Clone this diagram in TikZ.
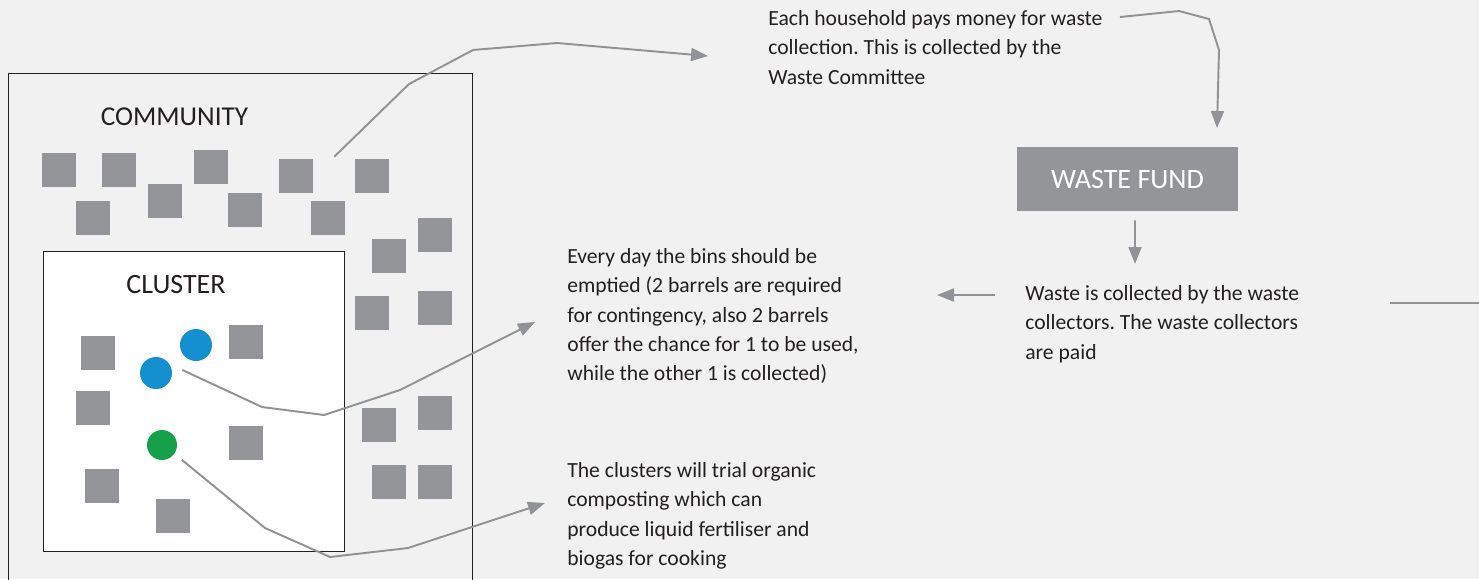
\documentclass[tikz,border=0pt]{standalone}
\usepackage{fontspec}
\setmainfont{Carlito}
\usetikzlibrary{arrows.meta, positioning}

\definecolor{bggray}{RGB}{240,241,240}
\definecolor{housegray}{RGB}{147,149,152}
\definecolor{linegray}{RGB}{145,146,149}
\definecolor{binblue}{RGB}{20,144,208}
\definecolor{bingreen}{RGB}{23,160,74}
\definecolor{inkgray}{RGB}{35,31,32}

\frenchspacing

\begin{document}
\begin{tikzpicture}[
  x=0.02cm, y=-0.02cm,
  every node/.style={font=\fontsize{12.3}{16.7}\selectfont, text=inkgray},
  house/.style={rectangle, fill=housegray, minimum size=0.68cm, inner sep=0pt},
  bin/.style={circle, fill=#1, minimum size=0.64cm, inner sep=0pt},
  zone/.style={rectangle, draw=inkgray, line width=0.7pt, anchor=north west,
               inner sep=0pt, fill=#1},
  note/.style={anchor=north west, align=left, inner sep=0pt},
  title/.style={font=\fontsize{15.5}{18}\selectfont},
  arr/.style={-{Triangle[length=0.34cm, width=0.26cm]}, draw=linegray, line width=1.1pt},
  lnk/.style={draw=linegray, line width=1.1pt},
]

% ── Fond et cadre ────────────────────────────────────────────────────
\fill[bggray] (0,0) rectangle (1479,579);
\useasboundingbox (0,0) rectangle (1479,579);

% ── Zones (communauté ouverte en bas, cluster blanc) ─────────────────
\node[zone=none, minimum width=9.28cm, minimum height=10.8cm] (community) at (8,73) {};
\node[title] (commlbl) at (174.5,116.5) {COMMUNITY};
\node[zone=white, minimum width=6.02cm, minimum height=6.0cm] (cluster) at (43,251) {};
\node[title, font=\fontsize{15.9}{18}\selectfont] (clustlbl) at (176,284.5) {CLUSTER};

% ── Maisons de la communauté ─────────────────────────────────────────
\node[house] (h1)  at (59,170)  {};
\node[house] (h2)  at (119,170) {};
\node[house] (h3)  at (211,167) {};
\node[house] (h4)  at (296,176) {};
\node[house] (h5)  at (372,176) {};
\node[house] (h6)  at (93,218)  {};
\node[house] (h7)  at (165,201) {};
\node[house] (h8)  at (245,210) {};
\node[house] (h9)  at (328,218) {};
\node[house] (h10) at (435,235) {};
\node[house] (h11) at (389,256) {};
\node[house] (h12) at (372,313) {};
\node[house] (h13) at (435,308) {};
\node[house] (h17) at (379,425) {};
\node[house] (h18) at (435,413) {};
\node[house] (h22) at (389,482) {};
\node[house] (h23) at (435,482) {};

% ── Maisons du cluster ───────────────────────────────────────────────
\node[house] (h14) at (98,353)  {};
\node[house] (h15) at (246,342) {};
\node[house] (h16) at (93,408)  {};
\node[house] (h19) at (246,443) {};
\node[house] (h20) at (102,486) {};
\node[house] (h21) at (173,516) {};

% ── Bacs (bleu : déchets, vert : compost) ────────────────────────────
\node[bin=binblue]  (bin1) at (196,345) {};
\node[bin=binblue]  (bin2) at (156,373) {};
\node[bin=bingreen, minimum size=0.6cm] (bin3) at (162,445) {};

% ── Fonds des déchets ────────────────────────────────────────────────
\node[rectangle, fill=housegray, minimum width=4.42cm, minimum height=1.28cm,
      font=\fontsize{16}{18}\selectfont, text=white] (fund) at (1127.5,179) {WASTE FUND};

% ── Textes ───────────────────────────────────────────────────────────
\node[note] (pay) at (768,10)
  {Each household pays money for waste\\collection. This is collected by the\\Waste Committee};
\node[note] (empty) at (567,248)
  {Every day the bins should be\\emptied (2 barrels are required\\for contingency, also 2 barrels\\offer the chance for 1 to be used,\\while the other 1 is collected)};
\node[note] (collect) at (1025,285)
  {Waste is collected by the waste\\collectors. The waste collectors\\are paid};
\node[note] (compost) at (567,462)
  {The clusters will trial organic\\composting which can\\produce liquid fertiliser and\\biogas for cooking};

% ── Points de passage des flèches ────────────────────────────────────
\coordinate (pay1) at (409,84);
\coordinate (pay2) at (473,50);
\coordinate (pay3) at (557,43);
\coordinate (payend) at (708,56);
\coordinate (fund0) at (1120,17);
\coordinate (fund1) at (1179,11);
\coordinate (fund2) at (1209,19);
\coordinate (fund3) at (1219,50);
\coordinate (fundend) at (1217,128);
\coordinate (collend) at (1135,264);
\coordinate (left0) at (995,295);
\coordinate (leftend) at (937,295);
\coordinate (right0) at (1390,303);
\coordinate (rightend) at (1490,303);
\coordinate (empty1) at (262,407);
\coordinate (empty2) at (324,415);
\coordinate (empty3) at (400,390);
\coordinate (emptyend) at (535,322);
\coordinate (comp1) at (265,528);
\coordinate (comp2) at (330,557);
\coordinate (comp3) at (408,548);
\coordinate (compend) at (545,503);

% ── Flèches ──────────────────────────────────────────────────────────
\draw[arr] ([shift={(21,-2)}]h4.north east) -- (pay1) -- (pay2) -- (pay3) -- (payend);
\draw[arr] (fund0) -- (fund1) -- (fund2) -- (fund3) -- (fundend);
\draw[arr] ([shift={(7.5,9)}]fund.south) -- (collend);
\draw[arr] (left0) -- (leftend);
\draw[lnk] (right0) -- (rightend);
\draw[arr] ([shift={(10,-3)}]bin2.east) -- (empty1) -- (empty2) -- (empty3) -- (emptyend);
\draw[arr] ([shift={(9,4)}]bin3.south east) -- (comp1) -- (comp2) -- (comp3) -- (compend);

\end{tikzpicture}
\end{document}
